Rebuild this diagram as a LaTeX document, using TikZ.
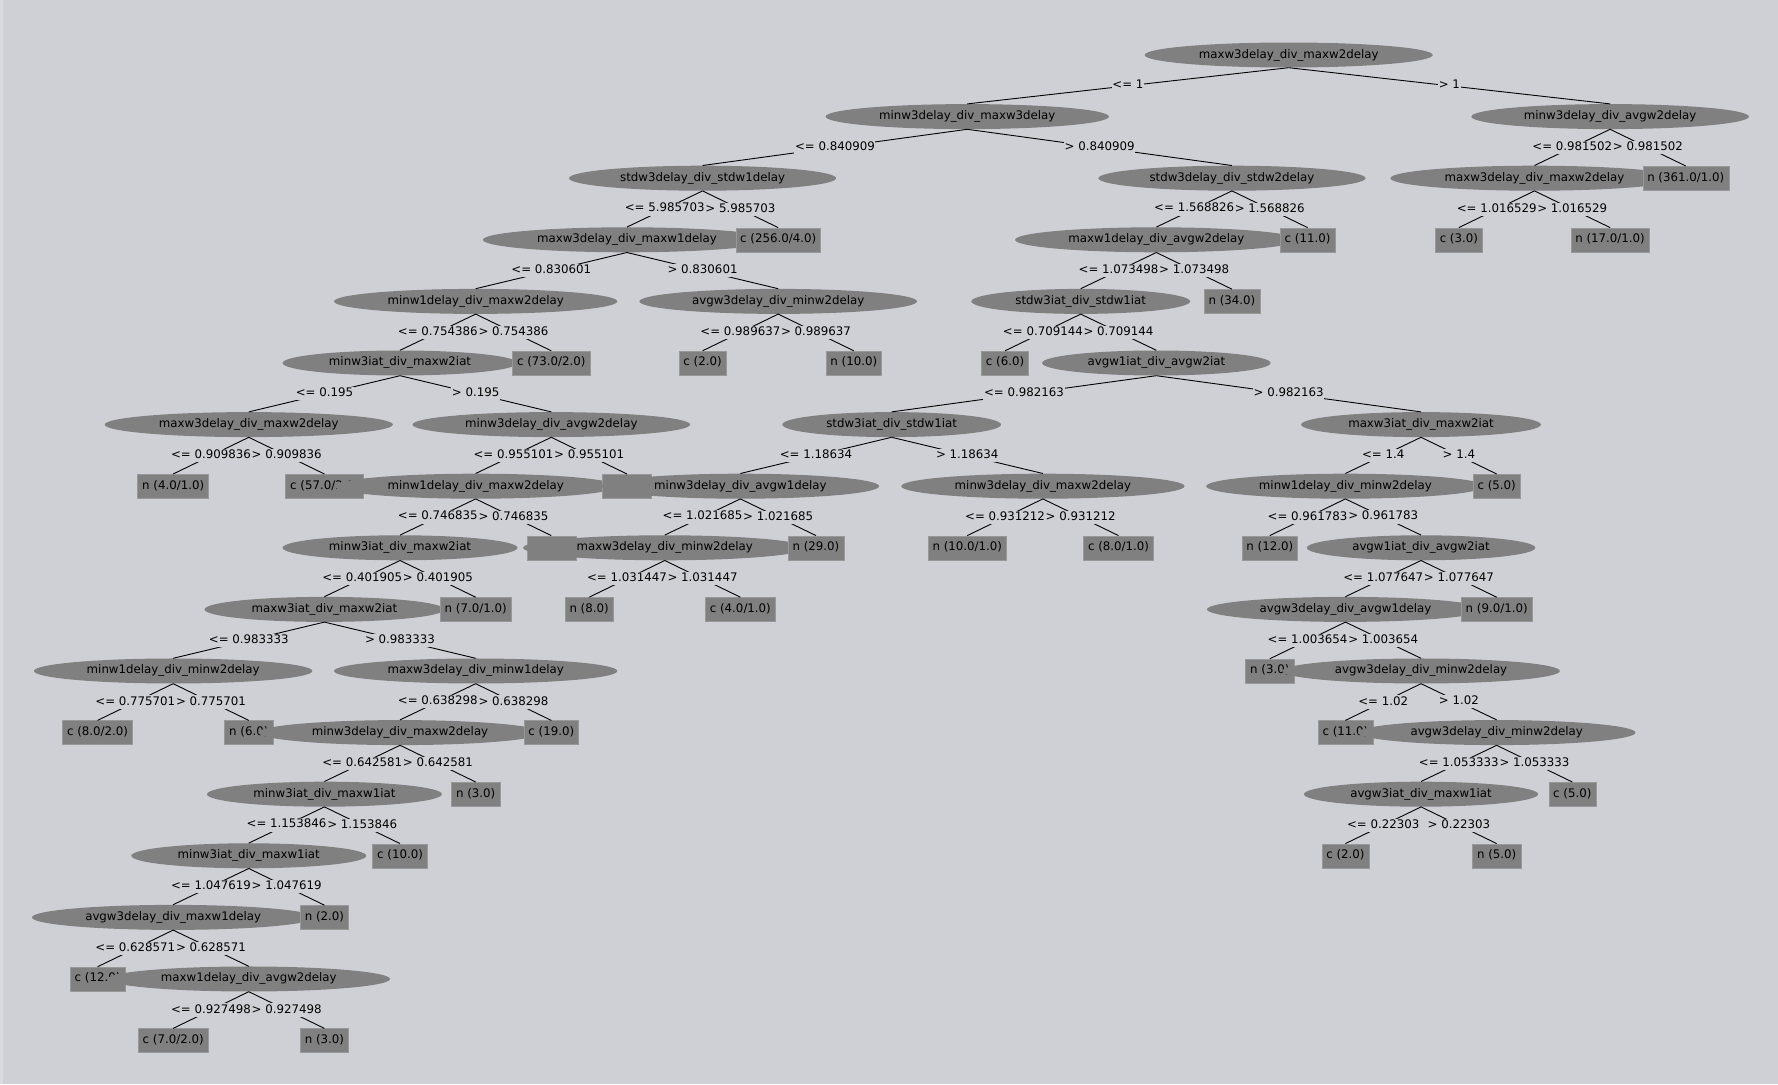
\documentclass[tikz,border=0pt]{standalone}
\usepackage{fontspec}
\setmainfont{DejaVu Sans}
\usetikzlibrary{shapes.geometric}
\definecolor{panel}{RGB}{207,208,214}
\definecolor{rim}{RGB}{217,218,222}
\definecolor{nodegray}{RGB}{128,128,128}
\definecolor{boxline}{RGB}{152,152,152}

\begin{document}
\begin{tikzpicture}[x=75.63pt,y=-61.6pt,
		every node/.style={font=\fontsize{11.8}{14}\selectfont, text height=8.6pt, text depth=2.6pt},
		split/.style={ellipse, fill=nodegray, inner xsep=12pt, inner ysep=0pt, minimum height=25pt},
		leaf/.style={rectangle, fill=nodegray, draw=boxline, inner xsep=4.5pt, inner ysep=0pt, minimum height=24pt},
		cond/.style={fill=panel, inner xsep=0.6pt, inner ysep=1pt},
		edge/.style={line width=0.9pt}]

			% panel
			\useasboundingbox (-0.2896,-0.8929) rectangle (23.220,16.705);
			\fill[panel] (-0.2896,-0.8929) rectangle (23.220,16.705);
			\fill[rim] (-0.2896,-0.8929) rectangle (-0.25,16.705);

			% level 0 - 2
			\node[split] (s0) at (16.75,0) {maxw3delay\_div\_maxw2delay};
			\node[split] (s1) at (12.5,1) {minw3delay\_div\_maxw3delay};
			\node[split] (s2) at (21,1) {minw3delay\_div\_avgw2delay};
			\node[split] (s3) at (9,2) {stdw3delay\_div\_stdw1delay};
			\node[split] (s4) at (16,2) {stdw3delay\_div\_stdw2delay};
			\node[split] (s5) at (20,2) {maxw3delay\_div\_maxw2delay};
			\node[leaf] (f1) at (22,2) {n (361.0/1.0)};

			% level 3
			\node[split] (s6) at (8,3) {maxw3delay\_div\_maxw1delay};
			\node[leaf] (f2) at (10,3) {c (256.0/4.0)};
			\node[split] (s7) at (15,3) {maxw1delay\_div\_avgw2delay};
			\node[leaf] (f3) at (17,3) {c (11.0)};
			\node[leaf] (f4) at (19,3) {c (3.0)};
			\node[leaf] (f5) at (21,3) {n (17.0/1.0)};

			% level 4
			\node[split] (s8) at (6,4) {minw1delay\_div\_maxw2delay};
			\node[split] (s9) at (10,4) {avgw3delay\_div\_minw2delay};
			\node[split] (s10) at (14,4) {stdw3iat\_div\_stdw1iat};
			\node[leaf] (f6) at (16,4) {n (34.0)};

			% level 5
			\node[split] (s11) at (5,5) {minw3iat\_div\_maxw2iat};
			\node[leaf] (f7) at (7,5) {c (73.0/2.0)};
			\node[leaf] (f8) at (9,5) {c (2.0)};
			\node[leaf] (f9) at (11,5) {n (10.0)};
			\node[leaf] (f10) at (13,5) {c (6.0)};
			\node[split] (s12) at (15,5) {avgw1iat\_div\_avgw2iat};

			% level 6
			\node[split] (s13) at (3,6) {maxw3delay\_div\_maxw2delay};
			\node[split] (s14) at (7,6) {minw3delay\_div\_avgw2delay};
			\node[split] (s15) at (11.5,6) {stdw3iat\_div\_stdw1iat};
			\node[split] (s16) at (18.5,6) {maxw3iat\_div\_maxw2iat};

			% level 7
			\node[leaf] (f11) at (2,7) {n (4.0/1.0)};
			\node[leaf] (f12) at (4,7) {c (57.0/2.0)};
			\node[split] (s17) at (6,7) {minw1delay\_div\_maxw2delay};
			\node[leaf, minimum width=49pt] (f13) at (8,7) {};
			\node[split] (s18) at (9.5,7) {minw3delay\_div\_avgw1delay};
			\node[split] (s19) at (13.5,7) {minw3delay\_div\_maxw2delay};
			\node[split] (s20) at (17.5,7) {minw1delay\_div\_minw2delay};
			\node[leaf] (f14) at (19.5,7) {c (5.0)};

			% level 8
			\node[split] (s21) at (5,8) {minw3iat\_div\_maxw2iat};
			\node[leaf, minimum width=49pt] (f15) at (7,8) {};
			\node[split] (s22) at (8.5,8) {maxw3delay\_div\_minw2delay};
			\node[leaf] (f16) at (10.5,8) {n (29.0)};
			\node[leaf] (f17) at (12.5,8) {n (10.0/1.0)};
			\node[leaf] (f18) at (14.5,8) {c (8.0/1.0)};
			\node[leaf] (f19) at (16.5,8) {n (12.0)};
			\node[split] (s23) at (18.5,8) {avgw1iat\_div\_avgw2iat};

			% level 9
			\node[split] (s24) at (4,9) {maxw3iat\_div\_maxw2iat};
			\node[leaf] (f20) at (6,9) {n (7.0/1.0)};
			\node[leaf] (f21) at (7.5,9) {n (8.0)};
			\node[leaf] (f22) at (9.5,9) {c (4.0/1.0)};
			\node[split] (s25) at (17.5,9) {avgw3delay\_div\_avgw1delay};
			\node[leaf] (f23) at (19.5,9) {n (9.0/1.0)};

			% level 10
			\node[split] (s26) at (2,10) {minw1delay\_div\_minw2delay};
			\node[split] (s27) at (6,10) {maxw3delay\_div\_minw1delay};
			\node[leaf] (f24) at (16.5,10) {n (3.0)};
			\node[split] (s28) at (18.5,10) {avgw3delay\_div\_minw2delay};

			% level 11
			\node[leaf] (f25) at (1,11) {c (8.0/2.0)};
			\node[leaf] (f26) at (3,11) {n (6.0)};
			\node[split] (s29) at (5,11) {minw3delay\_div\_maxw2delay};
			\node[leaf] (f27) at (7,11) {c (19.0)};
			\node[leaf] (f28) at (17.5,11) {c (11.0)};
			\node[split] (s30) at (19.5,11) {avgw3delay\_div\_minw2delay};

			% level 12
			\node[split] (s31) at (4,12) {minw3iat\_div\_maxw1iat};
			\node[leaf] (f29) at (6,12) {n (3.0)};
			\node[split] (s32) at (18.5,12) {avgw3iat\_div\_maxw1iat};
			\node[leaf] (f30) at (20.5,12) {c (5.0)};

			% level 13
			\node[split] (s33) at (3,13) {minw3iat\_div\_maxw1iat};
			\node[leaf] (f31) at (5,13) {c (10.0)};
			\node[leaf] (f32) at (17.5,13) {c (2.0)};
			\node[leaf] (f33) at (19.5,13) {n (5.0)};

			% level 14 - 16
			\node[split] (s34) at (2,14) {avgw3delay\_div\_maxw1delay};
			\node[leaf] (f34) at (4,14) {n (2.0)};
			\node[leaf] (f35) at (1,15) {c (12.0)};
			\node[split] (s35) at (3,15) {maxw1delay\_div\_avgw2delay};
			\node[leaf] (f36) at (2,16) {c (7.0/2.0)};
			\node[leaf] (f37) at (4,16) {n (3.0)};

			% branches
			\draw[edge] (s0.south) -- node[cond] {<= 1} (s1.north);
			\draw[edge] (s0.south) -- node[cond] {> 1} (s2.north);
			\draw[edge] (s1.south) -- node[cond] {<= 0.840909} (s3.north);
			\draw[edge] (s1.south) -- node[cond] {> 0.840909} (s4.north);
			\draw[edge] (s2.south) -- node[cond] {<= 0.981502} (s5.north);
			\draw[edge] (s2.south) -- node[cond] {> 0.981502} (f1.north);
			\draw[edge] (s3.south) -- node[cond] {<= 5.985703} (s6.north);
			\draw[edge] (s3.south) -- node[cond] {> 5.985703} (f2.north);
			\draw[edge] (s4.south) -- node[cond] {<= 1.568826} (s7.north);
			\draw[edge] (s4.south) -- node[cond] {> 1.568826} (f3.north);
			\draw[edge] (s5.south) -- node[cond] {<= 1.016529} (f4.north);
			\draw[edge] (s5.south) -- node[cond] {> 1.016529} (f5.north);
			\draw[edge] (s6.south) -- node[cond] {<= 0.830601} (s8.north);
			\draw[edge] (s6.south) -- node[cond] {> 0.830601} (s9.north);
			\draw[edge] (s7.south) -- node[cond] {<= 1.073498} (s10.north);
			\draw[edge] (s7.south) -- node[cond] {> 1.073498} (f6.north);
			\draw[edge] (s8.south) -- node[cond] {<= 0.754386} (s11.north);
			\draw[edge] (s8.south) -- node[cond] {> 0.754386} (f7.north);
			\draw[edge] (s9.south) -- node[cond] {<= 0.989637} (f8.north);
			\draw[edge] (s9.south) -- node[cond] {> 0.989637} (f9.north);
			\draw[edge] (s10.south) -- node[cond] {<= 0.709144} (f10.north);
			\draw[edge] (s10.south) -- node[cond] {> 0.709144} (s12.north);
			\draw[edge] (s11.south) -- node[cond] {<= 0.195} (s13.north);
			\draw[edge] (s11.south) -- node[cond] {> 0.195} (s14.north);
			\draw[edge] (s12.south) -- node[cond] {<= 0.982163} (s15.north);
			\draw[edge] (s12.south) -- node[cond] {> 0.982163} (s16.north);
			\draw[edge] (s13.south) -- node[cond] {<= 0.909836} (f11.north);
			\draw[edge] (s13.south) -- node[cond] {> 0.909836} (f12.north);
			\draw[edge] (s14.south) -- node[cond] {<= 0.955101} (s17.north);
			\draw[edge] (s14.south) -- node[cond] {> 0.955101} (f13.north);
			\draw[edge] (s15.south) -- node[cond] {<= 1.18634} (s18.north);
			\draw[edge] (s15.south) -- node[cond] {> 1.18634} (s19.north);
			\draw[edge] (s16.south) -- node[cond] {<= 1.4} (s20.north);
			\draw[edge] (s16.south) -- node[cond] {> 1.4} (f14.north);
			\draw[edge] (s17.south) -- node[cond] {<= 0.746835} (s21.north);
			\draw[edge] (s17.south) -- node[cond] {> 0.746835} (f15.north);
			\draw[edge] (s18.south) -- node[cond] {<= 1.021685} (s22.north);
			\draw[edge] (s18.south) -- node[cond] {> 1.021685} (f16.north);
			\draw[edge] (s19.south) -- node[cond] {<= 0.931212} (f17.north);
			\draw[edge] (s19.south) -- node[cond] {> 0.931212} (f18.north);
			\draw[edge] (s20.south) -- node[cond] {<= 0.961783} (f19.north);
			\draw[edge] (s20.south) -- node[cond] {> 0.961783} (s23.north);
			\draw[edge] (s21.south) -- node[cond] {<= 0.401905} (s24.north);
			\draw[edge] (s21.south) -- node[cond] {> 0.401905} (f20.north);
			\draw[edge] (s22.south) -- node[cond] {<= 1.031447} (f21.north);
			\draw[edge] (s22.south) -- node[cond] {> 1.031447} (f22.north);
			\draw[edge] (s23.south) -- node[cond] {<= 1.077647} (s25.north);
			\draw[edge] (s23.south) -- node[cond] {> 1.077647} (f23.north);
			\draw[edge] (s24.south) -- node[cond] {<= 0.983333} (s26.north);
			\draw[edge] (s24.south) -- node[cond] {> 0.983333} (s27.north);
			\draw[edge] (s25.south) -- node[cond] {<= 1.003654} (f24.north);
			\draw[edge] (s25.south) -- node[cond] {> 1.003654} (s28.north);
			\draw[edge] (s26.south) -- node[cond] {<= 0.775701} (f25.north);
			\draw[edge] (s26.south) -- node[cond] {> 0.775701} (f26.north);
			\draw[edge] (s27.south) -- node[cond] {<= 0.638298} (s29.north);
			\draw[edge] (s27.south) -- node[cond] {> 0.638298} (f27.north);
			\draw[edge] (s28.south) -- node[cond] {<= 1.02} (f28.north);
			\draw[edge] (s28.south) -- node[cond] {> 1.02} (s30.north);
			\draw[edge] (s29.south) -- node[cond] {<= 0.642581} (s31.north);
			\draw[edge] (s29.south) -- node[cond] {> 0.642581} (f29.north);
			\draw[edge] (s30.south) -- node[cond] {<= 1.053333} (s32.north);
			\draw[edge] (s30.south) -- node[cond] {> 1.053333} (f30.north);
			\draw[edge] (s31.south) -- node[cond] {<= 1.153846} (s33.north);
			\draw[edge] (s31.south) -- node[cond] {> 1.153846} (f31.north);
			\draw[edge] (s32.south) -- node[cond] {<= 0.22303} (f32.north);
			\draw[edge] (s32.south) -- node[cond] {> 0.22303} (f33.north);
			\draw[edge] (s33.south) -- node[cond] {<= 1.047619} (s34.north);
			\draw[edge] (s33.south) -- node[cond] {> 1.047619} (f34.north);
			\draw[edge] (s34.south) -- node[cond] {<= 0.628571} (f35.north);
			\draw[edge] (s34.south) -- node[cond] {> 0.628571} (s35.north);
			\draw[edge] (s35.south) -- node[cond] {<= 0.927498} (f36.north);
			\draw[edge] (s35.south) -- node[cond] {> 0.927498} (f37.north);
		\end{tikzpicture}
\end{document}
